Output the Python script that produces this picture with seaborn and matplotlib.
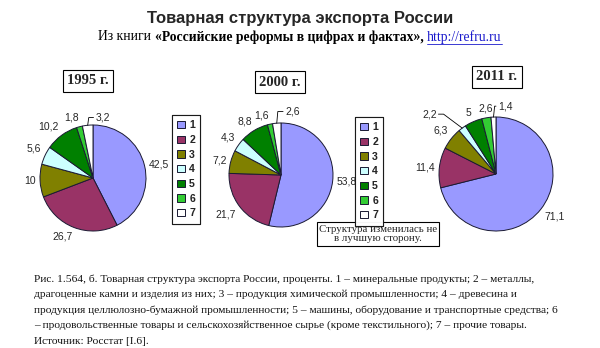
import numpy as np
import matplotlib
matplotlib.use("Agg")
import matplotlib.pyplot as plt
import seaborn as sns
from matplotlib.lines import Line2D

# ---------------- data ----------------
categories = ["1", "2", "3", "4", "5", "6", "7"]
years = ["1995 г.", "2000 г.", "2011 г."]
values_1995 = [42.5, 26.7, 10, 5.6, 10.2, 1.8, 3.2]
values_2000 = [53.8, 21.7, 7.2, 4.3, 8.8, 1.6, 2.6]
values_2011 = [71.1, 11.4, 6.3, 2.2, 5, 2.6, 1.4]

title = "Товарная структура экспорта России"
subtitle_parts = ["Из книги ", "«Российские реформы в цифрах и фактах»,", " ", "http://refru.ru"]
note = "Структура изменилась не\nв лучшую сторону."
caption_lines = [
    "Рис. 1.564, б. Товарная структура экспорта России, проценты. 1 – минеральные продукты; 2 – металлы,",
    "драгоценные камни и изделия из них; 3 – продукция химической промышленности; 4 – древесина и",
    "продукция целлюлозно-бумажной промышленности; 5 – машины, оборудование и транспортные средства; 6",
    "– продовольственные товары и сельскохозяйственное сырье (кроме текстильного); 7 – прочие товары.",
    "Источник: Росстат [I.6].",
]

# ---------------- style ----------------
colors = ["#9999FF", "#993366", "#808000", "#CCFFFF", "#008000", "#33CC33", "#FFFFFF"]
sns.set_theme(style="white")
palette = sns.color_palette(colors)
plt.rcParams["font.family"] = ["Liberation Sans", "DejaVu Sans"]
SERIF = ["Liberation Serif", "DejaVu Serif"]

W, H = 600, 348
fig = plt.figure(figsize=(W / 100, H / 100), dpi=100)
fig.patch.set_facecolor("white")


def fx(x):
    return x / W


def fy(y):
    return 1 - y / H


# layout (pixel positions)
pie_geom = [(93, 178, 53), (281, 175, 52), (496, 174, 57)]
year_box = [(88, 81), (280, 82), (497, 77)]
# labels with leader lines: index -> (text x, text y in radius units, kind)
leaders = [
    {6: (0.05, 1.14, "up")},
    {6: (0.08, 1.22, "up")},
    {6: (0.04, 1.19, "up"), 3: (-1.04, 1.05, "side")},
]
LD = 1.08
label_fs = 7.5

series = [values_1995, values_2000, values_2011]
wedges_keep = None
for k, vals in enumerate(series):
    cx, cy, r = pie_geom[k]
    ax = fig.add_axes([fx(cx - r), fy(cy + r), fx(2 * r), 2 * r / H])
    wedges, _ = ax.pie(vals, colors=palette, startangle=90, counterclock=False,
                       radius=1, wedgeprops=dict(edgecolor="#1a1a33", linewidth=0.7))
    ax.set_xlim(-1, 1)
    ax.set_ylim(-1, 1)
    ax.axis("off")
    if wedges_keep is None:
        wedges_keep = wedges
    for i, w in enumerate(wedges):
        lab = f"{vals[i]:g}".replace(".", ",")
        th = np.deg2rad((w.theta1 + w.theta2) / 2)
        c, s = np.cos(th), np.sin(th)
        if i in leaders[k]:
            tx, ty, kind = leaders[k][i]
            ex, ey = c * 1.0, s * 1.0
            if kind == "up":
                xs = [ex, ex + 0.02, tx - 0.04]
                ys = [ey, ty, ty]
                ax.text(tx, ty, lab, ha="left", va="center", fontsize=label_fs, clip_on=False)
            else:
                xs = [tx + 0.03, tx + 0.12, ex]
                ys = [ty, ty, ey]
                ax.text(tx, ty, lab, ha="right", va="center", fontsize=label_fs, clip_on=False)
            ax.add_line(Line2D(xs, ys, color="black", lw=0.6, clip_on=False))
            continue
        ha = "left" if c > 0.2 else ("right" if c < -0.2 else "center")
        va = "bottom" if s > 0.3 else ("top" if s < -0.3 else "center")
        ax.text(LD * c, LD * s, lab, ha=ha, va=va, fontsize=label_fs, clip_on=False)
    bx, by = year_box[k]
    fig.text(fx(bx), fy(by), years[k], ha="center", va="center", fontsize=10.5,
             fontweight="bold", family=SERIF,
             bbox=dict(boxstyle="square,pad=0.32", facecolor="white", edgecolor="black", linewidth=0.8))

# legends
for (lx, ly) in [(172, 115), (355, 117)]:
    leg = fig.legend(wedges_keep, categories, loc="upper left",
                     bbox_to_anchor=(fx(lx), fy(ly)), bbox_transform=fig.transFigure,
                     frameon=True, fancybox=False, edgecolor="black", borderaxespad=0,
                     handlelength=0.7, handleheight=0.7, handletextpad=0.45,
                     labelspacing=0.45, borderpad=0.5,
                     prop=dict(size=7.5, weight="bold", family=["Liberation Sans"]))
    leg.get_frame().set_linewidth(0.8)
    fig.add_artist(leg)

# note box
fig.text(fx(378), fy(234), note, ha="center", va="center", multialignment="center",
         fontsize=7.8, family=SERIF, linespacing=1.1,
         bbox=dict(boxstyle="square,pad=0.22", facecolor="white", edgecolor="black", linewidth=0.8))

# title
fig.text(0.5, fy(18), title, ha="center", va="center", fontsize=12, fontweight="bold",
         family=["Liberation Sans"])

# subtitle (mixed styles)
fig.canvas.draw()
renderer = fig.canvas.get_renderer()
styles = [("normal", "black"), ("bold", "black"), ("normal", "black"), ("normal", "#1a1aCC")]
sub_texts = []
for part, (wt, col) in zip(subtitle_parts, styles):
    t = fig.text(0, fy(37), part, ha="left", va="center", fontsize=9.8, fontweight=wt,
                 color=col, family=SERIF)
    sub_texts.append(t)
widths = [t.get_window_extent(renderer).width for t in sub_texts]
total = sum(widths)
x0 = 300 - total / 2
for t, wdt in zip(sub_texts, widths):
    t.set_x(fx(x0))
    x0 += wdt
link = sub_texts[-1]
lx0 = link.get_position()[0]
fig.add_artist(Line2D([lx0, lx0 + widths[-1] / W], [fy(43.5), fy(43.5)],
                      color="#1a1aCC", lw=0.6, transform=fig.transFigure))

# caption
for j, line in enumerate(caption_lines):
    fig.text(fx(34), fy(279 + 15.5 * j), line, ha="left", va="center", fontsize=8.2,
             family=SERIF, color="#111111")

fig.savefig("out.png", dpi=100, facecolor="white")
